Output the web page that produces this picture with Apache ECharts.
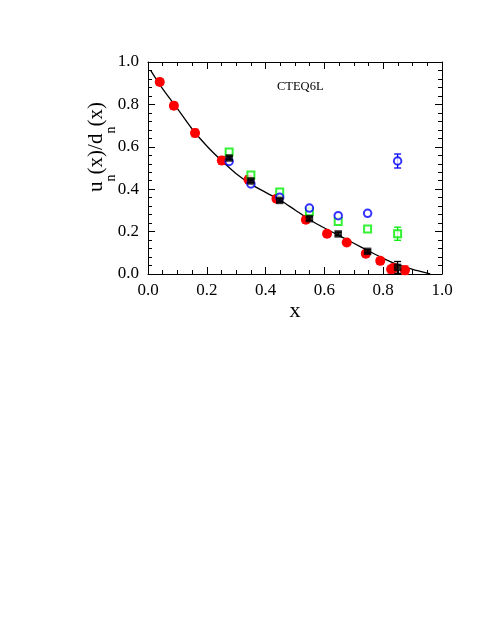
<!DOCTYPE html>
<html>
<head>
<meta charset="utf-8">
<script src="https://cdn.jsdelivr.net/npm/echarts@6/dist/echarts.min.js"></script>
<style>
  html, body { margin: 0; padding: 0; background: #fff; }
  #box { width: 491px; height: 635px; }
</style>
</head>
<body>
<div id="box"></div>
<script>
// curve (CTEQ6L)
var curveX = [0.01, 0.05, 0.10, 0.15, 0.20, 0.25, 0.30, 0.35, 0.40, 0.45, 0.50, 0.55, 0.60, 0.65, 0.70, 0.75, 0.80, 0.85, 0.90, 0.93, 0.96];
var curveY = [0.958, 0.873, 0.780, 0.684, 0.604, 0.535, 0.473, 0.424, 0.385, 0.348, 0.302, 0.256, 0.217, 0.181, 0.145, 0.109, 0.074, 0.044, 0.022, 0.011, 0.0];

// red filled circles
var redX = [0.040, 0.088, 0.160, 0.251, 0.342, 0.437, 0.537, 0.609, 0.676, 0.741, 0.790, 0.827, 0.835, 0.874];
var redY = [0.906, 0.794, 0.665, 0.535, 0.445, 0.355, 0.256, 0.190, 0.149, 0.096, 0.062, 0.022, 0.028, 0.018];
var redErr = [0.016, 0.016, 0.018, 0.018, 0.018, 0.014, 0.014, 0.014, 0.012, 0.014, 0.014, 0.018, 0.018, 0.020];

// other data sets share the same x
var setX = [0.276, 0.350, 0.448, 0.549, 0.647, 0.747, 0.849];
var blackY = [0.547, 0.439, 0.347, 0.261, 0.189, 0.107, 0.031];
var blackErr = [0.008, 0.008, 0.008, 0.008, 0.008, 0.008, 0.028];
var blueY = [0.531, 0.425, 0.362, 0.311, 0.275, 0.286, 0.533];
var blueErr = [0, 0, 0, 0, 0, 0, 0.033];
var greenY = [0.575, 0.467, 0.387, 0.294, 0.248, 0.212, 0.190];
var greenErr = [0, 0, 0, 0, 0, 0, 0.031];

var labelFont = 'Liberation Serif';

function pairs(xs, ys) {
    return xs.map(function (x, i) { return [x, ys[i]]; });
}

// error bars drawn through the axes
function errorBars(xs, ys, errs, color, z) {
    var data = [];
    xs.forEach(function (x, i) {
        if (errs[i] > 0) data.push([x, ys[i] - errs[i], ys[i] + errs[i]]);
    });
    return {
        type: 'custom',
        data: data,
        encode: { x: 0, y: [1, 2] },
        z: z,
        silent: true,
        renderItem: function (params, api) {
            var lo = api.coord([api.value(0), api.value(1)]);
            var hi = api.coord([api.value(0), api.value(2)]);
            var w = 3.5;
            var st = { stroke: color, lineWidth: 1.3 };
            return {
                type: 'group',
                children: [
                    { type: 'line', shape: { x1: lo[0], y1: lo[1], x2: hi[0], y2: hi[1] }, style: st },
                    { type: 'line', shape: { x1: lo[0] - w, y1: lo[1], x2: lo[0] + w, y2: lo[1] }, style: st },
                    { type: 'line', shape: { x1: hi[0] - w, y1: hi[1], x2: hi[0] + w, y2: hi[1] }, style: st }
                ]
            };
        }
    };
}

function axisCommon(show, split) {
    return {
        type: 'value',
        min: 0,
        max: 1,
        interval: 0.2,
        axisLine: { show: true, onZero: false, lineStyle: { color: '#000', width: 1 } },
        axisTick: { show: true, inside: true, length: 7, lineStyle: { color: '#000' } },
        minorTick: { show: true, splitNumber: split, length: 4, lineStyle: { color: '#000' } },
        splitLine: { show: false },
        axisLabel: {
            show: show,
            color: '#000',
            fontFamily: labelFont,
            fontSize: 17,
            formatter: function (v) { return v.toFixed(1); }
        }
    };
}

var myChart = echarts.init(document.getElementById('box'));

var xBottom = axisCommon(true, 4);
xBottom.position = 'bottom';
xBottom.axisLabel.margin = 8;
xBottom.name = 'x';
xBottom.nameLocation = 'middle';
xBottom.nameGap = 21;
xBottom.nameTextStyle = { color: '#000', fontFamily: labelFont, fontSize: 22 };

var xTop = axisCommon(false, 4);
xTop.position = 'top';

var yLeft = axisCommon(true, 5);
yLeft.position = 'left';
yLeft.axisLabel.margin = 9;
yLeft.name = '{m|u}{s|n}{m|(x)/d}{s|n}{m|(x)}';
yLeft.nameLocation = 'middle';
yLeft.nameRotate = 90;
yLeft.nameGap = 30;
yLeft.nameMoveOverlap = false;
yLeft.nameTextStyle = {
    color: '#000',
    padding: [0, 0, 0, 42],
    rich: {
        m: { fontFamily: labelFont, fontSize: 21, lineHeight: 22, verticalAlign: 'top', color: '#000' },
        s: { fontFamily: labelFont, fontSize: 14, lineHeight: 32, verticalAlign: 'bottom', color: '#000' }
    }
};

var yRight = axisCommon(false, 5);
yRight.position = 'right';

myChart.setOption({
    animation: false,
    backgroundColor: '#fff',
    grid: { left: 148, top: 62, width: 294, height: 212, containLabel: false },
    xAxis: [xBottom, xTop],
    yAxis: [yLeft, yRight],
    series: [
        {
            type: 'line',
            data: pairs(curveX, curveY),
            smooth: 0.3,
            symbol: 'none',
            lineStyle: { color: '#000', width: 1.3 },
            z: 2
        },
        errorBars(redX, redY, redErr, '#ff2020', 3),
        {
            type: 'scatter',
            data: pairs(redX, redY),
            symbol: 'circle',
            symbolSize: 10,
            itemStyle: { color: '#ff0000', opacity: 1 },
            z: 3
        },
        errorBars(setX, greenY, greenErr, '#00ee00', 4),
        {
            type: 'scatter',
            data: pairs(setX, greenY),
            symbol: 'emptyRect',
            symbolSize: 7,
            itemStyle: { color: '#00ee00', borderWidth: 1.3 },
            z: 4
        },
        errorBars(setX, blueY, blueErr, '#0000ff', 5),
        {
            type: 'scatter',
            data: pairs(setX, blueY),
            symbol: 'emptyCircle',
            symbolSize: 7.5,
            itemStyle: { color: '#0000ff', borderWidth: 1.3 },
            z: 5
        },
        errorBars(setX, blackY, blackErr, '#000', 6),
        {
            type: 'scatter',
            data: pairs(setX, blackY),
            symbol: 'rect',
            symbolSize: 7.5,
            itemStyle: { color: '#000' },
            z: 6
        }
    ],
    graphic: [
        {
            type: 'text',
            left: 277,
            top: 80,
            style: { text: 'CTEQ6L', fontFamily: labelFont, fontSize: 12.5, fill: '#000' }
        }
    ]
});
</script>
</body>
</html>
